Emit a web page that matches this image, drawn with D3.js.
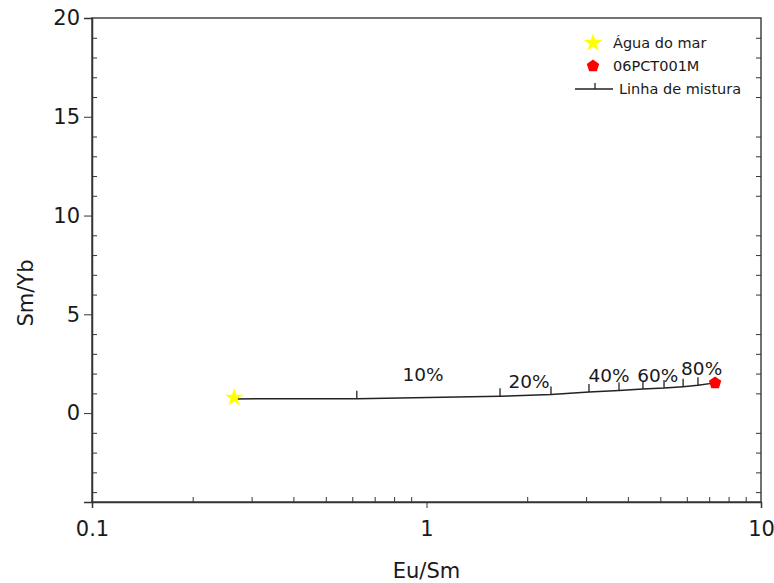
<!DOCTYPE html>
<html>
<head>
<meta charset="utf-8">
<script src="https://cdn.jsdelivr.net/npm/d3@7"></script>
<style>
  body { margin: 0; background: #fff; }
  text { font-family: "DejaVu Sans", Verdana, sans-serif; fill: #1a1a1a; }
</style>
</head>
<body>
<script>
// DATA
const mixEuSm = [0.266, 0.619, 1.659, 2.356, 3.06, 3.763, 4.437, 5.13, 5.85, 6.48, 7.29];
const mixSmYb = [0.72, 0.73, 0.85, 0.94, 1.07, 1.15, 1.22, 1.27, 1.34, 1.41, 1.53];
const pctLabels = ["10%", "20%", "40%", "60%", "80%"];
const pctEuSm = [0.976, 2.025, 3.513, 4.912, 6.647];
const pctSmYb = [1.61, 1.27, 1.56, 1.56, 1.91];
const seawater = [0.266, 0.78];
const sample = [7.29, 1.53];
const legendLabels = ["Água do mar", "06PCT001M", "Linha de mistura"];
const xTicks = [0.1, 1, 10];
const yTicks = [0, 5, 10, 15, 20];

// CREATE VALUES
const margin = {top: 18, right: 13, bottom: 81, left: 92};
const width = 774 - margin.left - margin.right;
const height = 583 - margin.top - margin.bottom;

var svg = d3.select("body").append("svg")
  .attr("width", 774)
  .attr("height", 583)
  .append("g")
  .attr("transform", `translate(${margin.left},${margin.top})`);

// SCALES
var x = d3.scaleLog().domain([0.1, 10]).range([0, width]);
var y = d3.scaleLinear().domain([-4.5, 20]).range([height, 0]);

// FRAME
svg.append("rect")
  .attr("width", width)
  .attr("height", height)
  .attr("fill", "none")
  .attr("stroke", "#444")
  .attr("stroke-width", 1.5);

// X AXIS (major out, minor in)
svg.append("g")
  .attr("transform", `translate(0,${height})`)
  .call(d3.axisBottom(x).tickValues(xTicks).tickSize(6).tickFormat(d3.format("")))
  .call(g => g.select(".domain").attr("stroke", "#333").attr("stroke-width", 1.5))
  .call(g => g.selectAll(".tick line").attr("stroke", "#333"))
  .call(g => g.selectAll(".tick text").attr("font-size", 21).attr("dy", "1.2em"));

var xMinor = [];
[0.1, 1].forEach(function(base) {
  for (var k = 2; k <= 9; k++) xMinor.push(base * k);
});
svg.append("g")
  .attr("transform", `translate(0,${height})`)
  .call(d3.axisBottom(x).tickValues(xMinor).tickSize(-5).tickFormat(""))
  .call(g => g.select(".domain").remove())
  .call(g => g.selectAll(".tick line").attr("stroke", "#333"));

// Y AXIS
svg.append("g")
  .call(d3.axisLeft(y).tickValues(yTicks).tickSize(8).tickPadding(4))
  .call(g => g.select(".domain").attr("stroke", "#333").attr("stroke-width", 1.5))
  .call(g => g.selectAll(".tick line").attr("stroke", "#333"))
  .call(g => g.selectAll(".tick text").attr("font-size", 21));

var yMinor = d3.range(-4, 20).filter(d => d % 5 !== 0);
svg.append("g")
  .call(d3.axisLeft(y).tickValues(yMinor).tickSize(-5).tickFormat(""))
  .call(g => g.select(".domain").remove())
  .call(g => g.selectAll(".tick line").attr("stroke", "#333"));
svg.append("g")
  .attr("transform", `translate(${width},0)`)
  .call(d3.axisRight(y).tickValues(yMinor).tickSize(-5).tickFormat(""))
  .call(g => g.select(".domain").remove())
  .call(g => g.selectAll(".tick line").attr("stroke", "#333"));

// AXIS LABELS
svg.append("text")
  .attr("x", width / 2)
  .attr("y", height + 76)
  .attr("text-anchor", "middle")
  .attr("font-size", 21)
  .text("Eu/Sm");

svg.append("text")
  .attr("transform", "rotate(-90)")
  .attr("x", -275)
  .attr("y", 33 - margin.left)
  .attr("text-anchor", "middle")
  .attr("font-size", 21)
  .text("Sm/Yb");

// MIXING LINE
var mix = mixEuSm.map((d, i) => [d, mixSmYb[i]]);
svg.append("path")
  .datum(mix)
  .attr("fill", "none")
  .attr("stroke", "#222")
  .attr("stroke-width", 1.5)
  .attr("d", d3.line().x(d => x(d[0])).y(d => y(d[1])));

svg.selectAll(".mixtick")
  .data(mix.slice(1, mix.length - 1))
  .enter().append("line")
  .attr("x1", d => x(d[0]))
  .attr("x2", d => x(d[0]))
  .attr("y1", d => y(d[1]))
  .attr("y2", d => y(d[1]) - 8)
  .attr("stroke", "#222")
  .attr("stroke-width", 1.3);

svg.selectAll(".pct")
  .data(pctLabels)
  .enter().append("text")
  .attr("x", (d, i) => x(pctEuSm[i]))
  .attr("y", (d, i) => y(pctSmYb[i]))
  .attr("text-anchor", "middle")
  .attr("font-size", 18.5)
  .text(d => d);

// SYMBOLS
var star = d3.symbol().type(d3.symbolStar).size(105);
var penta = d3.line()(d3.range(5).map(i => {
  var a = -Math.PI / 2 + i * 2 * Math.PI / 5;
  return [6.5 * Math.cos(a), 6.5 * Math.sin(a)];
})) + "Z";

svg.append("path")
  .attr("d", star)
  .attr("transform", `translate(${x(seawater[0])},${y(seawater[1])})`)
  .attr("fill", "#ffff00");

svg.append("path")
  .attr("d", penta)
  .attr("transform", `translate(${x(sample[0])},${y(sample[1])})`)
  .attr("fill", "#ff0000");

// LEGEND
var legend = svg.append("g").attr("transform", `translate(${593 - margin.left},${43 - margin.top})`);
legend.append("path").attr("d", star).attr("fill", "#ffff00");
legend.append("path").attr("d", penta).attr("transform", "translate(0,23)").attr("fill", "#ff0000");
legend.append("line").attr("x1", -18).attr("x2", 20).attr("y1", 46).attr("y2", 46)
  .attr("stroke", "#222").attr("stroke-width", 1.5);
legend.append("line").attr("x1", 2).attr("x2", 2).attr("y1", 46).attr("y2", 40)
  .attr("stroke", "#222").attr("stroke-width", 1.3);
legend.selectAll(".lg")
  .data(legendLabels)
  .enter().append("text")
  .attr("x", (d, i) => i < 2 ? 20 : 26)
  .attr("y", (d, i) => 5 + i * 23)
  .attr("font-size", 14.5)
  .text(d => d);
</script>
</body>
</html>
